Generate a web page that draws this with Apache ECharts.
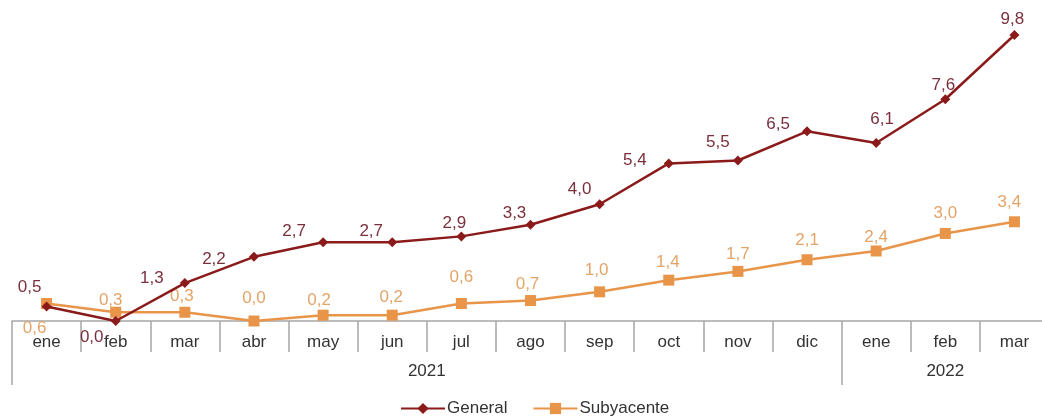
<!DOCTYPE html>
<html>
<head>
<meta charset="utf-8">
<script src="https://cdn.jsdelivr.net/npm/echarts@6/dist/echarts.min.js"></script>
<style>
  html, body { margin: 0; padding: 0; background: #fff; }
  #chart { width: 1042px; height: 417px; }
</style>
</head>
<body>
<div id="chart"></div>
<script>
// Months of 2021 and the first quarter of 2022
const months = ['ene', 'feb', 'mar', 'abr', 'may', 'jun', 'jul', 'ago', 'sep', 'oct', 'nov', 'dic', 'ene', 'feb', 'mar'];
const years = ['2021', '2022'];
const yearStartIndex = [0, 12];

// Inflation rates (%)
const general = [0.5, 0.0, 1.3, 2.2, 2.7, 2.7, 2.9, 3.3, 4.0, 5.4, 5.5, 6.5, 6.1, 7.6, 9.8];
const subyacente = [0.6, 0.3, 0.3, 0.0, 0.2, 0.2, 0.6, 0.7, 1.0, 1.4, 1.7, 2.1, 2.4, 3.0, 3.4];

// Label nudges [dx, dy] so the value tags don't collide with the lines
const generalLabelShift = [[-17, -8], [-24, 27], [-33, 6], [-40, 14], [-29, 0], [-21, 0], [-7, -2], [-16, 0],
  [-20, -4], [-34, 8], [-20, -7], [-29, 4], [6, -13], [-2, -3], [-2, -5]];
const subyacenteLabelShift = [[-12, 36], [-5, 0], [-3, -4], [0, -11], [-4, -3], [-1, -6], [0, -15], [-3, -5],
  [-3, -10], [-1, -6], [0, -6], [0, -8], [0, -2], [0, -9], [-5, -8]];

const FONT = '"Liberation Sans", Arial, sans-serif';
const FS = 17;
const RED = '#8b1a1a';
const ORANGE = '#e8954a';
const AXIS = '#a6a6a6';

const fmt = v => v.toFixed(1).replace('.', ',');

function withLabels(values, shifts) {
  return values.map((v, i) => ({ value: v, label: { offset: shifts[i] } }));
}

// year groups sit centred over their span of months
const yearCenters = yearStartIndex.map((s, i) => {
  const end = i + 1 < yearStartIndex.length ? yearStartIndex[i + 1] : months.length;
  return (s + end) / 2;
});

const chart = echarts.init(document.getElementById('chart'), null, { renderer: 'canvas' });
chart.setOption({
  animation: false,
  textStyle: { fontFamily: FONT },
  grid: { left: 12, right: -7, top: 29.2, bottom: 96, outerBoundsMode: 'none', containLabel: false },
  legend: {
    top: 400,
    left: 400,
    padding: 0,
    itemWidth: 44,
    itemHeight: 14,
    itemGap: 25,
    textStyle: { fontFamily: FONT, fontSize: FS, color: '#333', padding: [0, 0, 0, -3] },
    data: ['General', 'Subyacente']
  },
  xAxis: [
    {
      type: 'category',
      data: months,
      boundaryGap: true,
      axisLine: { lineStyle: { color: AXIS, width: 1.5 } },
      axisTick: { show: true, alignWithLabel: false, length: 31, lineStyle: { color: AXIS, width: 1.5 } },
      axisLabel: { color: '#333', fontSize: FS, fontFamily: FONT, margin: 13, interval: 0 },
      splitLine: { show: false }
    },
    {
      type: 'value',
      position: 'bottom',
      min: 0,
      max: months.length,
      axisLine: { show: false },
      axisTick: { show: true, length: 64, customValues: yearStartIndex, lineStyle: { color: AXIS, width: 1.5 } },
      axisLabel: {
        customValues: yearCenters,
        color: '#333', fontSize: FS, fontFamily: FONT, margin: 42,
        formatter: v => years[yearCenters.indexOf(v)]
      },
      splitLine: { show: false }
    }
  ],
  yAxis: {
    type: 'value',
    min: 0,
    max: 10,
    show: false,
    splitLine: { show: false }
  },
  series: [
    {
      name: 'General',
      type: 'line',
      data: withLabels(general, generalLabelShift),
      symbol: 'diamond',
      symbolSize: 10,
      lineStyle: { color: RED, width: 2.5 },
      itemStyle: { color: RED },
      label: {
        show: true, position: 'top', distance: -2.5,
        color: '#7a2f3c', fontSize: FS, fontFamily: FONT,
        formatter: p => fmt(p.value)
      },
      z: 3
    },
    {
      name: 'Subyacente',
      type: 'line',
      data: withLabels(subyacente, subyacenteLabelShift),
      symbol: 'rect',
      symbolSize: 11,
      lineStyle: { color: ORANGE, width: 2.5 },
      itemStyle: { color: ORANGE },
      label: {
        show: true, position: 'top', distance: -2.5,
        color: '#e3a468', fontSize: FS, fontFamily: FONT,
        formatter: p => fmt(p.value)
      },
      z: 2
    }
  ]
});
</script>
</body>
</html>
